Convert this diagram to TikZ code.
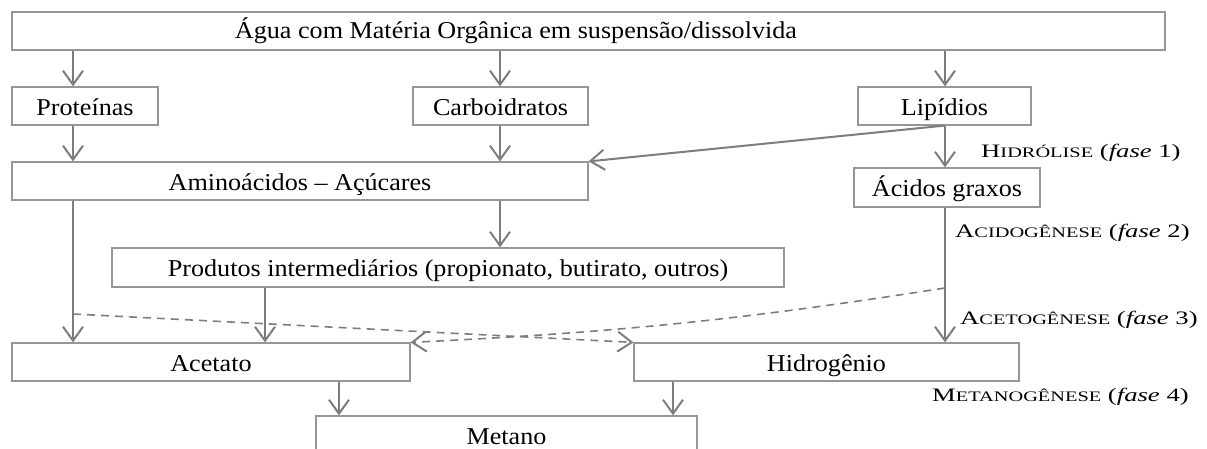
\documentclass[tikz,border=0pt]{standalone}
\usepackage{fontspec}
\setmainfont{Liberation Serif}[FakeStretch=1.08]
\usetikzlibrary{arrows.meta}
\definecolor{linegray}{RGB}{125,125,125}
\definecolor{boxgray}{RGB}{150,150,150}
\newcommand\bigtxt{\fontsize{24.2}{27}\selectfont}
\newcommand\lbltxt{\fontsize{19}{22}\selectfont}
\newcommand\smcaps{\fontsize{14.5}{17}\selectfont}
\newcommand\phase[3]{\scalebox{1.3}[1]{#1{\smcaps #2} (\textit{fase} #3)}}
\begin{document}
\begin{tikzpicture}[x=1pt,y=-1pt,
  box/.style={draw=boxgray, line width=1.2pt, inner sep=0pt, minimum height=38pt,
    text height=21pt, text depth=3pt, font=\bigtxt},
  lbl/.style={anchor=west, inner sep=0pt, font=\lbltxt},
  tip/.style={-{Straight Barb[length=14pt,width=20pt,line width=2pt]}},
  arr/.style={tip, draw=linegray, line width=2pt},
  thinarr/.style={tip, draw=linegray, line width=1.4pt},
  dasharr/.style={tip, draw=linegray, line width=1.6pt, dash pattern=on 8pt off 6pt}]
\useasboundingbox (0,0) rectangle (1207,448);
\clip (0,0) rectangle (1207,448);
% boxes
\node[box, minimum width=1153pt] (top) at (588.5,31) {};
\node[anchor=base, inner sep=0pt, font=\bigtxt] (toptxt) at (516,38) {Água com Matéria Orgânica em suspensão/dissolvida};
\node[box, minimum width=146pt] (prot) at (85,106) {Proteínas};
\node[box, minimum width=175pt] (carb) at (500.5,106) {Carboidratos};
\node[box, minimum width=173pt] (lip) at (944.5,106) {Lipídios};
\node[box, minimum width=576pt] (amino) at (300,181) {Aminoácidos – Açúcares};
\node[box, minimum width=186pt, minimum height=39pt] (acid) at (947,187.5) {Ácidos graxos};
\node[box, minimum width=672pt, minimum height=39pt] (prod) at (448,267.5) {Produtos intermediários (propionato, butirato, outros)};
\node[box, minimum width=398pt] (acet) at (211,362) {Acetato};
\node[box, minimum width=385pt] (hidro) at (826.5,362) {Hidrogênio};
\node[box, minimum width=381pt] (meta) at (506.5,435) {Metano};
% phase labels
\node[lbl] (f1) at (981,153) {\phase{H}{IDRÓLISE}{1}};
\node[lbl] (f2) at (955,233) {\phase{A}{CIDOGÊNESE}{2}};
\node[lbl] (f3) at (960,320) {\phase{A}{CETOGÊNESE}{3}};
\node[lbl] (f4) at (932,397) {\phase{M}{ETANOGÊNESE}{4}};
% columns
\coordinate (c1) at (73,0);
\coordinate (c2) at (500,0);
\coordinate (c3) at (945,0);
\coordinate (c4) at (265,0);
\coordinate (c5) at (339,0);
\coordinate (c6) at (673,0);
\coordinate (d1) at (73,314);
\coordinate (d2) at (945,288);
% connectors
\draw[arr] (c1 |- top.south) -- (c1 |- prot.north);
\draw[arr] (c2 |- top.south) -- (c2 |- carb.north);
\draw[arr] (c3 |- top.south) -- (c3 |- lip.north);
\draw[arr] (c1 |- prot.south) -- (c1 |- amino.north);
\draw[arr] (c2 |- carb.south) -- (c2 |- amino.north);
\draw[arr] (lip.south) -- (amino.north east);
\draw[arr] (c3 |- lip.south) -- (c3 |- acid.north);
\draw[arr] (c2 |- amino.south) -- (c2 |- prod.north);
\draw[arr] (c1 |- amino.south) -- (c1 |- acet.north);
\draw[arr] (c4 |- prod.south) -- (c4 |- acet.north);
\draw[thinarr] (c3 |- acid.south) -- (c3 |- hidro.north);
\draw[arr] (c5 |- acet.south) -- (c5 |- meta.north);
\draw[arr] (c6 |- hidro.south) -- (c6 |- meta.north);
\draw[dasharr] (d1) -- (hidro.north west);
\draw[dasharr] (d2) to[bend left=3] (acet.north east);
\end{tikzpicture}
\end{document}
